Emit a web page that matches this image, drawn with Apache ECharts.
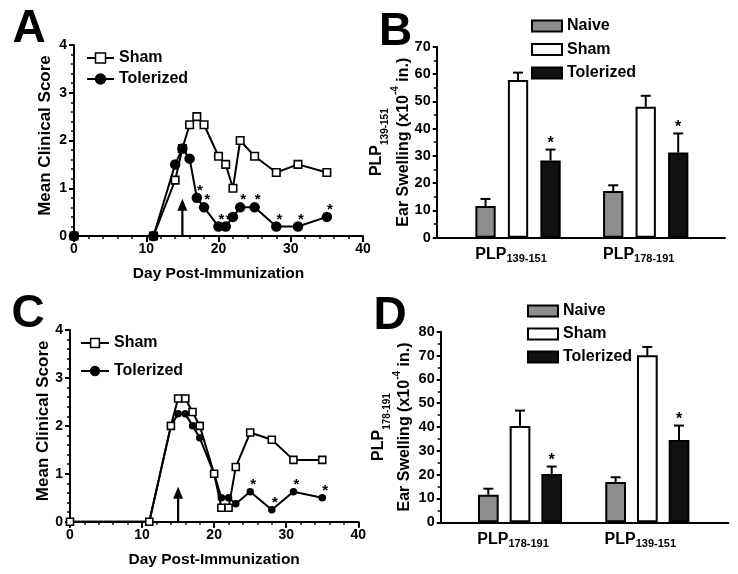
<!DOCTYPE html>
<html><head><meta charset="utf-8">
<script src="https://cdn.jsdelivr.net/npm/echarts@6/dist/echarts.min.js"></script>
<style>html,body{margin:0;padding:0;background:#fff}#c{width:738px;height:574px}</style>
</head><body><div id="c"></div>
<script>
// ---------- data ----------
const xTicksLine = [0, 10, 20, 30, 40];
const yTicksLine = [0, 1, 2, 3, 4];
const daysA = [0, 11, 14, 15, 16, 17, 18, 20, 21, 22, 23, 25, 28, 31, 35];
const shamA = [0, 0, 1.17, 1.83, 2.33, 2.5, 2.33, 1.67, 1.5, 1.0, 2.0, 1.67, 1.33, 1.5, 1.33];
const tolA  = [0, 0, 1.5, 1.83, 1.62, 0.8, 0.6, 0.2, 0.2, 0.4, 0.6, 0.6, 0.2, 0.2, 0.4];
const sigA  = [0, 0, 0, 0, 0, 1, 1, 1, 1, 0, 1, 1, 1, 1, 1];
const arrowA = [15, 0.78];
const daysC = [0, 11, 14, 15, 16, 17, 18, 20, 21, 22, 23, 25, 28, 31, 35];
const shamC = [0, 0, 2.0, 2.57, 2.57, 2.29, 2.0, 1.0, 0.29, 0.29, 1.14, 1.86, 1.71, 1.29, 1.29];
const tolC  = [0, 0, 2.0, 2.25, 2.25, 2.0, 1.75, 1.0, 0.5, 0.5, 0.375, 0.625, 0.25, 0.625, 0.5];
const sigC  = [0, 0, 0, 0, 0, 0, 0, 0, 0, 0, 0, 1, 1, 1, 1];
const arrowC = [15, 0.73];

const catsB = ['139-151', '178-191'];
const yTicksB = [0, 10, 20, 30, 40, 50, 60, 70];
const naiveB = [11.6, 17.1], naiveSemB = [2.6, 2.1];
const shamB  = [57.8, 48.0], shamSemB  = [2.7, 4.0];
const tolB   = [28.3, 31.2], tolSemB   = [4.0, 7.0];
const sigB   = [1, 1];

const catsD = ['178-191', '139-151'];
const yTicksD = [0, 10, 20, 30, 40, 50, 60, 70, 80];
const naiveD = [11.6, 16.9], naiveSemD = [2.5, 2.0];
const shamD  = [40.4, 70.1], shamSemD  = [6.5, 3.5];
const tolD   = [20.3, 34.5], tolSemD   = [3.1, 6.1];
const sigD   = [1, 1];

// ---------- style helpers ----------
const FONT = '"Liberation Sans", Arial, Helvetica, sans-serif';
const T = (size, extra) => Object.assign({color: '#000', fontFamily: FONT, fontWeight: 'bold', fontSize: size}, extra || {});
const AX = {color: '#000', width: 2};

function lineAxes(gi, xGap, yGap) {
  const x = {
    gridIndex: gi, type: 'value',
    min: xTicksLine[0], max: xTicksLine[xTicksLine.length - 1], interval: xTicksLine[1] - xTicksLine[0],
    axisLine: {onZero: false, lineStyle: AX},
    axisTick: {length: 6, lineStyle: AX},
    minorTick: {show: true, splitNumber: 5, length: 3, lineStyle: {color: '#000', width: 1.5}},
    splitLine: {show: false}, minorSplitLine: {show: false},
    axisLabel: T(14, {margin: 6}),
    name: 'Day Post-Immunization', nameLocation: 'middle', nameGap: xGap,
    nameTextStyle: T(15.5), nameMoveOverlap: false
  };
  const y = {
    gridIndex: gi, type: 'value',
    min: yTicksLine[0], max: yTicksLine[yTicksLine.length - 1], interval: yTicksLine[1] - yTicksLine[0],
    axisLine: {onZero: false, lineStyle: AX},
    axisTick: {length: 5, lineStyle: AX},
    minorTick: {show: true, splitNumber: 5, length: 3, lineStyle: {color: '#000', width: 1.5}},
    splitLine: {show: false}, minorSplitLine: {show: false},
    axisLabel: T(14, {margin: 7}),
    name: 'Mean Clinical Score', nameLocation: 'middle', nameRotate: 90, nameGap: yGap,
    nameTextStyle: T(17, {padding: [0, 0, 0, 10]}), nameMoveOverlap: false
  };
  return [x, y];
}

function lineSeries(gi, prefix, days, sham, tol, sig, arrow, symS, symT, shamTop) {
  const sS = {
    type: 'line', name: prefix + ' Sham', xAxisIndex: gi, yAxisIndex: gi,
    data: days.map((d, i) => [d, sham[i]]),
    symbol: 'rect', symbolSize: symS, showSymbol: true,
    lineStyle: {color: '#000', width: 2},
    itemStyle: {color: '#fff', borderColor: '#000', borderWidth: 1.6},
    z: shamTop ? 4 : 3, silent: true, emphasis: {disabled: true}
  };
  const sT = {
    type: 'line', name: prefix + ' Tolerized', xAxisIndex: gi, yAxisIndex: gi,
    data: days.map((d, i) => [d, tol[i]]),
    symbol: 'circle', symbolSize: symT, showSymbol: true,
    lineStyle: {color: '#000', width: 2},
    itemStyle: {color: '#000', borderColor: '#000', borderWidth: 0},
    z: shamTop ? 3 : 4, silent: true, emphasis: {disabled: true}
  };
  const stars = {
    type: 'custom', xAxisIndex: gi, yAxisIndex: gi, silent: true, z: 6,
    data: days.map((d, i) => [d, tol[i], sig[i]]).filter(r => r[2]),
    renderItem: (p, api) => {
      const c = api.coord([api.value(0), api.value(1)]);
      return {type: 'text', style: {text: '*', x: c[0] + 3, y: c[1] - 7, fill: '#000',
        font: 'bold 15px ' + FONT, align: 'center', verticalAlign: 'middle'}};
    }
  };
  const arr = {
    type: 'custom', xAxisIndex: gi, yAxisIndex: gi, silent: true, z: 5,
    data: [arrow],
    renderItem: (p, api) => {
      const p0 = api.coord([api.value(0), 0]);
      const p1 = api.coord([api.value(0), api.value(1)]);
      return {type: 'group', children: [
        {type: 'line', shape: {x1: p0[0], y1: p0[1], x2: p1[0], y2: p1[1] + 10}, style: {stroke: '#000', lineWidth: 2.2}},
        {type: 'polygon', shape: {points: [[p1[0], p1[1]], [p1[0] - 5, p1[1] + 12], [p1[0] + 5, p1[1] + 12]]}, style: {fill: '#000'}}
      ]};
    }
  };
  return shamTop ? [sT, sS, stars, arr] : [sS, sT, stars, arr];
}

function barAxes(gi, cats, yTicks, xMin, xMax, yGap, line1Name, L, subMargin) {
  const x = {
    gridIndex: gi, type: 'value', min: xMin, max: xMax,
    axisLine: {onZero: false, lineStyle: AX},
    axisTick: {show: false}, splitLine: {show: false},
    axisLabel: {
      customValues: cats.map((c, i) => i + 1),
      formatter: v => '{m|PLP}{s|' + cats[Math.round(v) - 1] + '}',
      margin: subMargin, padding: [0, 14, 0, 0],
      rich: {m: T(16, {lineHeight: 20}), s: T(11, {lineHeight: 7, verticalAlign: 'bottom'})}
    }
  };
  const y = {
    gridIndex: gi, type: 'value',
    min: yTicks[0], max: yTicks[yTicks.length - 1], interval: yTicks[1] - yTicks[0],
    axisLine: {onZero: false, lineStyle: AX},
    axisTick: {length: 4, lineStyle: AX},
    minorTick: {show: true, splitNumber: 2, length: 3, lineStyle: {color: '#000', width: 1.5}},
    splitLine: {show: false}, minorSplitLine: {show: false},
    axisLabel: T(14.5, {margin: 6}),
    name: '{m|PLP}{s|' + line1Name + '}\n{m|Ear Swelling (x10}{p|-4}{m| in.)}',
    nameLocation: 'middle', nameRotate: 90, nameGap: yGap, nameMoveOverlap: false,
    nameTextStyle: {rich: {
      m: T(16, {lineHeight: L}),
      s: T(10, {lineHeight: L - 11, verticalAlign: 'bottom'}),
      p: T(10, {lineHeight: L - 12, verticalAlign: 'top'})
    }}
  };
  return [x, y];
}

function barSeries(gi, prefix, cats, groups, bw, gapPx, sig) {
  const pos = cats.map((c, i) => i + 1);
  const out = [];
  const fills = ['#8d8d8d', '#ffffff', '#111111'];
  const names = ['Naive', 'Sham', 'Tolerized'];
  groups.forEach((g, k) => {
    out.push({
      type: 'bar', name: prefix + ' ' + names[k], xAxisIndex: gi, yAxisIndex: gi,
      data: pos.map((p, i) => [p, g[0][i]]),
      barWidth: bw, barGap: (gapPx / bw * 100).toFixed(1) + '%',
      itemStyle: {color: fills[k], borderColor: '#000', borderWidth: 2},
      silent: true, emphasis: {disabled: true}, z: 2
    });
  });
  groups.forEach((g, k) => {
    out.push({
      type: 'custom', xAxisIndex: gi, yAxisIndex: gi, silent: true, z: 3,
      data: pos.map((p, i) => [p, g[0][i], g[1][i], k === 2 ? sig[i] : 0]),
      renderItem: (prm, api) => {
        const c0 = api.coord([api.value(0), api.value(1)]);
        const c1 = api.coord([api.value(0), api.value(1) + api.value(2)]);
        const cx = c0[0] + (k - 1) * (bw + gapPx);
        const ch = [
          {type: 'line', shape: {x1: cx, y1: c0[1], x2: cx, y2: c1[1]}, style: {stroke: '#000', lineWidth: 2}},
          {type: 'line', shape: {x1: cx - 5, y1: c1[1], x2: cx + 5, y2: c1[1]}, style: {stroke: '#000', lineWidth: 2}}
        ];
        if (api.value(3)) ch.push({type: 'text', style: {text: '*', x: cx, y: c1[1] - 6, fill: '#000',
          font: 'bold 16px ' + FONT, align: 'center', verticalAlign: 'middle'}});
        return {type: 'group', children: ch};
      }
    });
  });
  return out;
}

const [xA, yA] = lineAxes(0, 29.7, 20.5);
const [xC, yC] = lineAxes(2, 30.5, 18.5);
const [xB, yB] = barAxes(1, catsB, yTicksB, 0.363, 2.621, 19.2, catsB[0], 27, 7);
const [xD, yD] = barAxes(3, catsD, yTicksD, 0.377, 2.636, 22.7, catsD[0], 26, 7);

const legLine = (left, top, gap, prefix, ih, iw) => ({
  left: left, top: top, orient: 'vertical', padding: 0, itemGap: gap, itemWidth: iw, itemHeight: ih,
  selectedMode: false, data: [prefix + ' Sham', prefix + ' Tolerized'],
  formatter: n => n.slice(2), textStyle: T(16),
  itemStyle: {borderWidth: 1.5}
});
const legBar = (left, top, gap, prefix) => ({
  left: left, top: top, orient: 'vertical', padding: 0, itemGap: gap, itemWidth: 30, itemHeight: 11,
  selectedMode: false, icon: 'rect',
  data: [prefix + ' Naive', prefix + ' Sham', prefix + ' Tolerized'],
  formatter: n => n.slice(2), textStyle: T(16),
  itemStyle: {borderColor: '#000', borderWidth: 2}
});

const letter = (t, x, y) => ({type: 'text', x: x, y: y, silent: true,
  style: {text: t, font: 'bold 46px ' + FONT, fill: '#000', align: 'center', verticalAlign: 'middle'}});

const option = {
  animation: false,
  backgroundColor: '#fff',
  grid: [
    {left: 74, top: 45, width: 289, height: 191, outerBoundsMode: 'none'},
    {left: 436.7, top: 46.7, width: 288.3, height: 191, outerBoundsMode: 'none'},
    {left: 70, top: 330, width: 288.3, height: 191.7, outerBoundsMode: 'none'},
    {left: 440.7, top: 331.7, width: 287.6, height: 190.6, outerBoundsMode: 'none'}
  ],
  xAxis: [xA, xB, xC, xD],
  yAxis: [yA, yB, yC, yD],
  legend: [
    legLine(86, 50, 5, 'A', 12.5, 27),
    legBar(531, 18, 7.5, 'B'),
    legLine(80, 335, 12, 'C', 11, 28),
    legBar(527, 303, 7, 'D')
  ],
  graphic: [letter('A', 29, 29), letter('B', 395.5, 32), letter('C', 28, 314), letter('D', 390, 316)],
  series: [].concat(
    lineSeries(0, 'A', daysA, shamA, tolA, sigA, arrowA, 7.5, 10.5, false),
    barSeries(1, 'B', catsB, [[naiveB, naiveSemB], [shamB, shamSemB], [tolB, tolSemB]], 20.3, 12.2, sigB),
    lineSeries(2, 'C', daysC, shamC, tolC, sigC, arrowC, 7, 7.5, true),
    barSeries(3, 'D', catsD, [[naiveD, naiveSemD], [shamD, shamSemD], [tolD, tolSemD]], 20.7, 11, sigD)
  )
};
const chart = echarts.init(document.getElementById('c'), null, {renderer: 'canvas'});
chart.setOption(option);
</script></body></html>
